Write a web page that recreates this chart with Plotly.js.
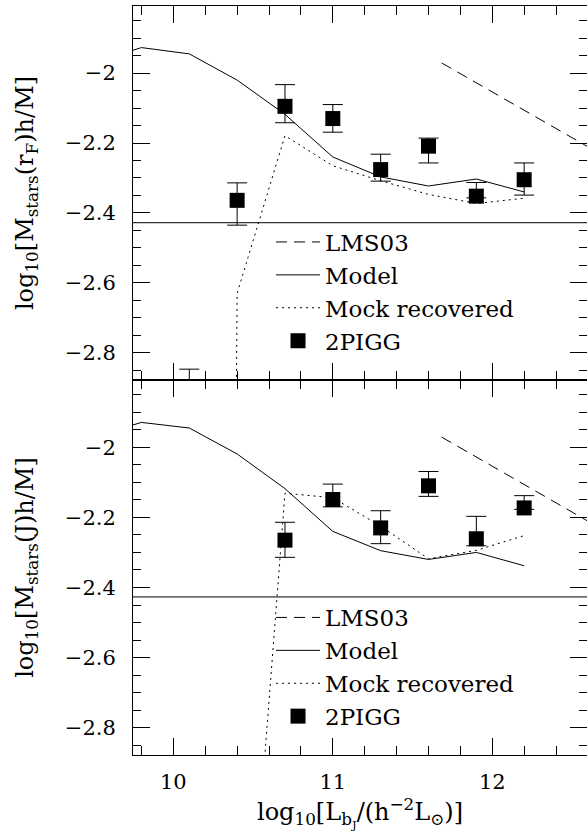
<!DOCTYPE html>
<html>
<head>
<meta charset="utf-8">
<script src="https://cdn.plot.ly/plotly-3.0.1.min.js"></script>
<style>html,body{margin:0;padding:0;background:#fff;}#chart{width:587px;height:833px;}</style>
</head>
<body>
<div id="chart"></div>
<script>
// ---- data ----
const X_MODEL = [9.5, 9.8, 10.1, 10.4, 10.7, 11.0, 11.3, 11.6, 11.9, 12.2];
const MODEL_RF = [-1.97, -1.927, -1.945, -2.02, -2.118, -2.24, -2.297, -2.323, -2.303, -2.34];
const MODEL_J  = [-1.97, -1.929, -1.945, -2.019, -2.118, -2.24, -2.295, -2.32, -2.3, -2.338];

const X_MOCK_RF = [10.1, 10.4, 10.7, 11.0, 11.3, 11.6, 11.9, 12.2];
const MOCK_RF   = [-20, -2.63, -2.179, -2.265, -2.308, -2.347, -2.373, -2.358];
const X_MOCK_J  = [10.4, 10.7, 11.0, 11.3, 11.6, 11.9, 12.2];
const MOCK_J    = [-3.91, -2.131, -2.144, -2.225, -2.318, -2.294, -2.252];

const X_LMS = [11.683, 12.7];
const LMS03 = [-1.971, -2.237];

const X_OBS_RF = [10.1, 10.4, 10.7, 11.0, 11.3, 11.6, 11.9, 12.2];
const OBS_RF   = [-2.95, -2.364, -2.095, -2.13, -2.276, -2.209, -2.352, -2.305];
const OBS_RF_UP = [0.103, 0.05, 0.062, 0.04, 0.044, 0.023, 0.039, 0.048];
const OBS_RF_DN = [0.05, 0.071, 0.047, 0.039, 0.033, 0.048, 0.005, 0.044];

const X_OBS_J = [10.7, 11.0, 11.3, 11.6, 11.9, 12.2];
const OBS_J   = [-2.265, -2.149, -2.23, -2.11, -2.261, -2.173];
const OBS_J_UP = [0.051, 0.044, 0.049, 0.041, 0.064, 0.035];
const OBS_J_DN = [0.049, 0.021, 0.045, 0.03, 0.02, 0.004];

const REF_LEVEL_RF = -2.428;
const REF_LEVEL_J = -2.427;

const SERIES = ['LMS03', 'Model', 'Mock recovered', '2PIGG'];
const X_TITLE = 'log<sub>10</sub>[L<sub>b<sub>J</sub></sub>/(h<sup>−2</sup>L<sub>⊙</sub>)]';
const Y_TITLE_RF = 'log<sub>10</sub>[M<sub>stars</sub>(r<sub>F</sub>)h/M]';
const Y_TITLE_J = 'log<sub>10</sub>[M<sub>stars</sub>(J)h/M]';
const Y_TICKS = [-2.8, -2.6, -2.4, -2.2, -2];
const Y_TICKTEXT = ['−2.8', '−2.6', '−2.4', '−2.2', '−2'];
const X_TICKS = [10, 11, 12];

// ---- styling ----
const FONT = 'DejaVu Serif, serif';
const DOT = '2px,4px';
const DASH = '11px,7px';

function panel(xa, ya, leg, xMock, mock, model, xObs, obs, up, dn) {
  return [
    {x: X_LMS, y: LMS03, xaxis: xa, yaxis: ya, legend: leg, name: SERIES[0], mode: 'lines',
     line: {color: '#000', width: 1, dash: DASH}},
    {x: X_MODEL, y: model, xaxis: xa, yaxis: ya, legend: leg, name: SERIES[1], mode: 'lines',
     line: {color: '#000', width: 1}},
    {x: xMock, y: mock, xaxis: xa, yaxis: ya, legend: leg, name: SERIES[2], mode: 'lines',
     line: {color: '#000', width: 1, dash: DOT}},
    {x: xObs, y: obs, xaxis: xa, yaxis: ya, legend: leg, name: SERIES[3], mode: 'markers',
     marker: {symbol: 'square', size: 15, color: '#000'},
     error_y: {type: 'data', symmetric: false, array: up, arrayminus: dn, color: '#000', thickness: 1, width: 10}}
  ];
}

const data = [].concat(
  panel('x2', 'y2', 'legend', X_MOCK_RF, MOCK_RF, MODEL_RF, X_OBS_RF, OBS_RF, OBS_RF_UP, OBS_RF_DN),
  panel('x', 'y', 'legend2', X_MOCK_J, MOCK_J, MODEL_J, X_OBS_J, OBS_J, OBS_J_UP, OBS_J_DN)
);

const split = 375 / 749;
const xRange = [9.747, 12.594];
const yRange = [-2.878, -1.808];

function xax(extra) {
  return Object.assign({
    range: xRange, tickvals: X_TICKS, ticktext: X_TICKS.map(String),
    ticks: 'inside', ticklen: 17, tickwidth: 1, tickcolor: '#000',
    minor: {dtick: 0.2, tick0: 0, ticks: 'inside', ticklen: 9, tickwidth: 1, tickcolor: '#000'},
    showline: true, linecolor: '#000', linewidth: 1, mirror: 'ticks',
    showgrid: false, zeroline: false,
    tickfont: {family: FONT, size: 21, color: '#000'}
  }, extra);
}
function yax(extra) {
  return Object.assign({
    range: yRange, tickvals: Y_TICKS, ticktext: Y_TICKTEXT,
    ticks: 'inside', ticklen: 17, tickwidth: 1, tickcolor: '#000',
    minor: {dtick: 0.05, tick0: 0, ticks: 'inside', ticklen: 8, tickwidth: 1, tickcolor: '#000'},
    showline: true, linecolor: '#000', linewidth: 1, mirror: 'ticks',
    showgrid: false, zeroline: false, ticklabelstandoff: 12,
    tickfont: {family: FONT, size: 21, color: '#000'}
  }, extra);
}

const legendBase = {
  xanchor: 'left', yanchor: 'top', bgcolor: 'rgba(0,0,0,0)', borderwidth: 0,
  font: {family: FONT, size: 23, color: '#000'}, traceorder: 'normal', itemwidth: 44
};

const TITLE_FONT = {family: FONT, size: 24, color: '#000'};

const layout = {
  width: 587, height: 833,
  margin: {l: 133, r: 0, t: 6, b: 78},
  paper_bgcolor: '#fff', plot_bgcolor: '#fff',
  font: {family: FONT, color: '#000'},
  showlegend: true,
  xaxis: xax({anchor: 'y', ticklabelstandoff: 8,
    title: {text: X_TITLE, font: TITLE_FONT, standoff: 6}}),
  xaxis2: xax({anchor: 'y2', showticklabels: false, matches: 'x'}),
  yaxis: yax({domain: [0, split], anchor: 'x',
    title: {text: Y_TITLE_J, font: TITLE_FONT, standoff: 24}}),
  yaxis2: yax({domain: [split, 1], anchor: 'x2',
    title: {text: Y_TITLE_RF, font: TITLE_FONT, standoff: 24}}),
  legend: Object.assign({}, legendBase, {x: 0.304, y: 0.7136}),
  legend2: Object.assign({}, legendBase, {x: 0.304, y: 0.2123}),
  shapes: [
    {type: 'line', xref: 'x2 domain', yref: 'y2', x0: 0, x1: 1, y0: REF_LEVEL_RF, y1: REF_LEVEL_RF,
     line: {color: '#000', width: 1}},
    {type: 'line', xref: 'x domain', yref: 'y', x0: 0, x1: 1, y0: REF_LEVEL_J, y1: REF_LEVEL_J,
     line: {color: '#000', width: 1}}
  ]
};

Plotly.newPlot('chart', data, layout, {displayModeBar: false, staticPlot: true});
</script>
</body>
</html>
